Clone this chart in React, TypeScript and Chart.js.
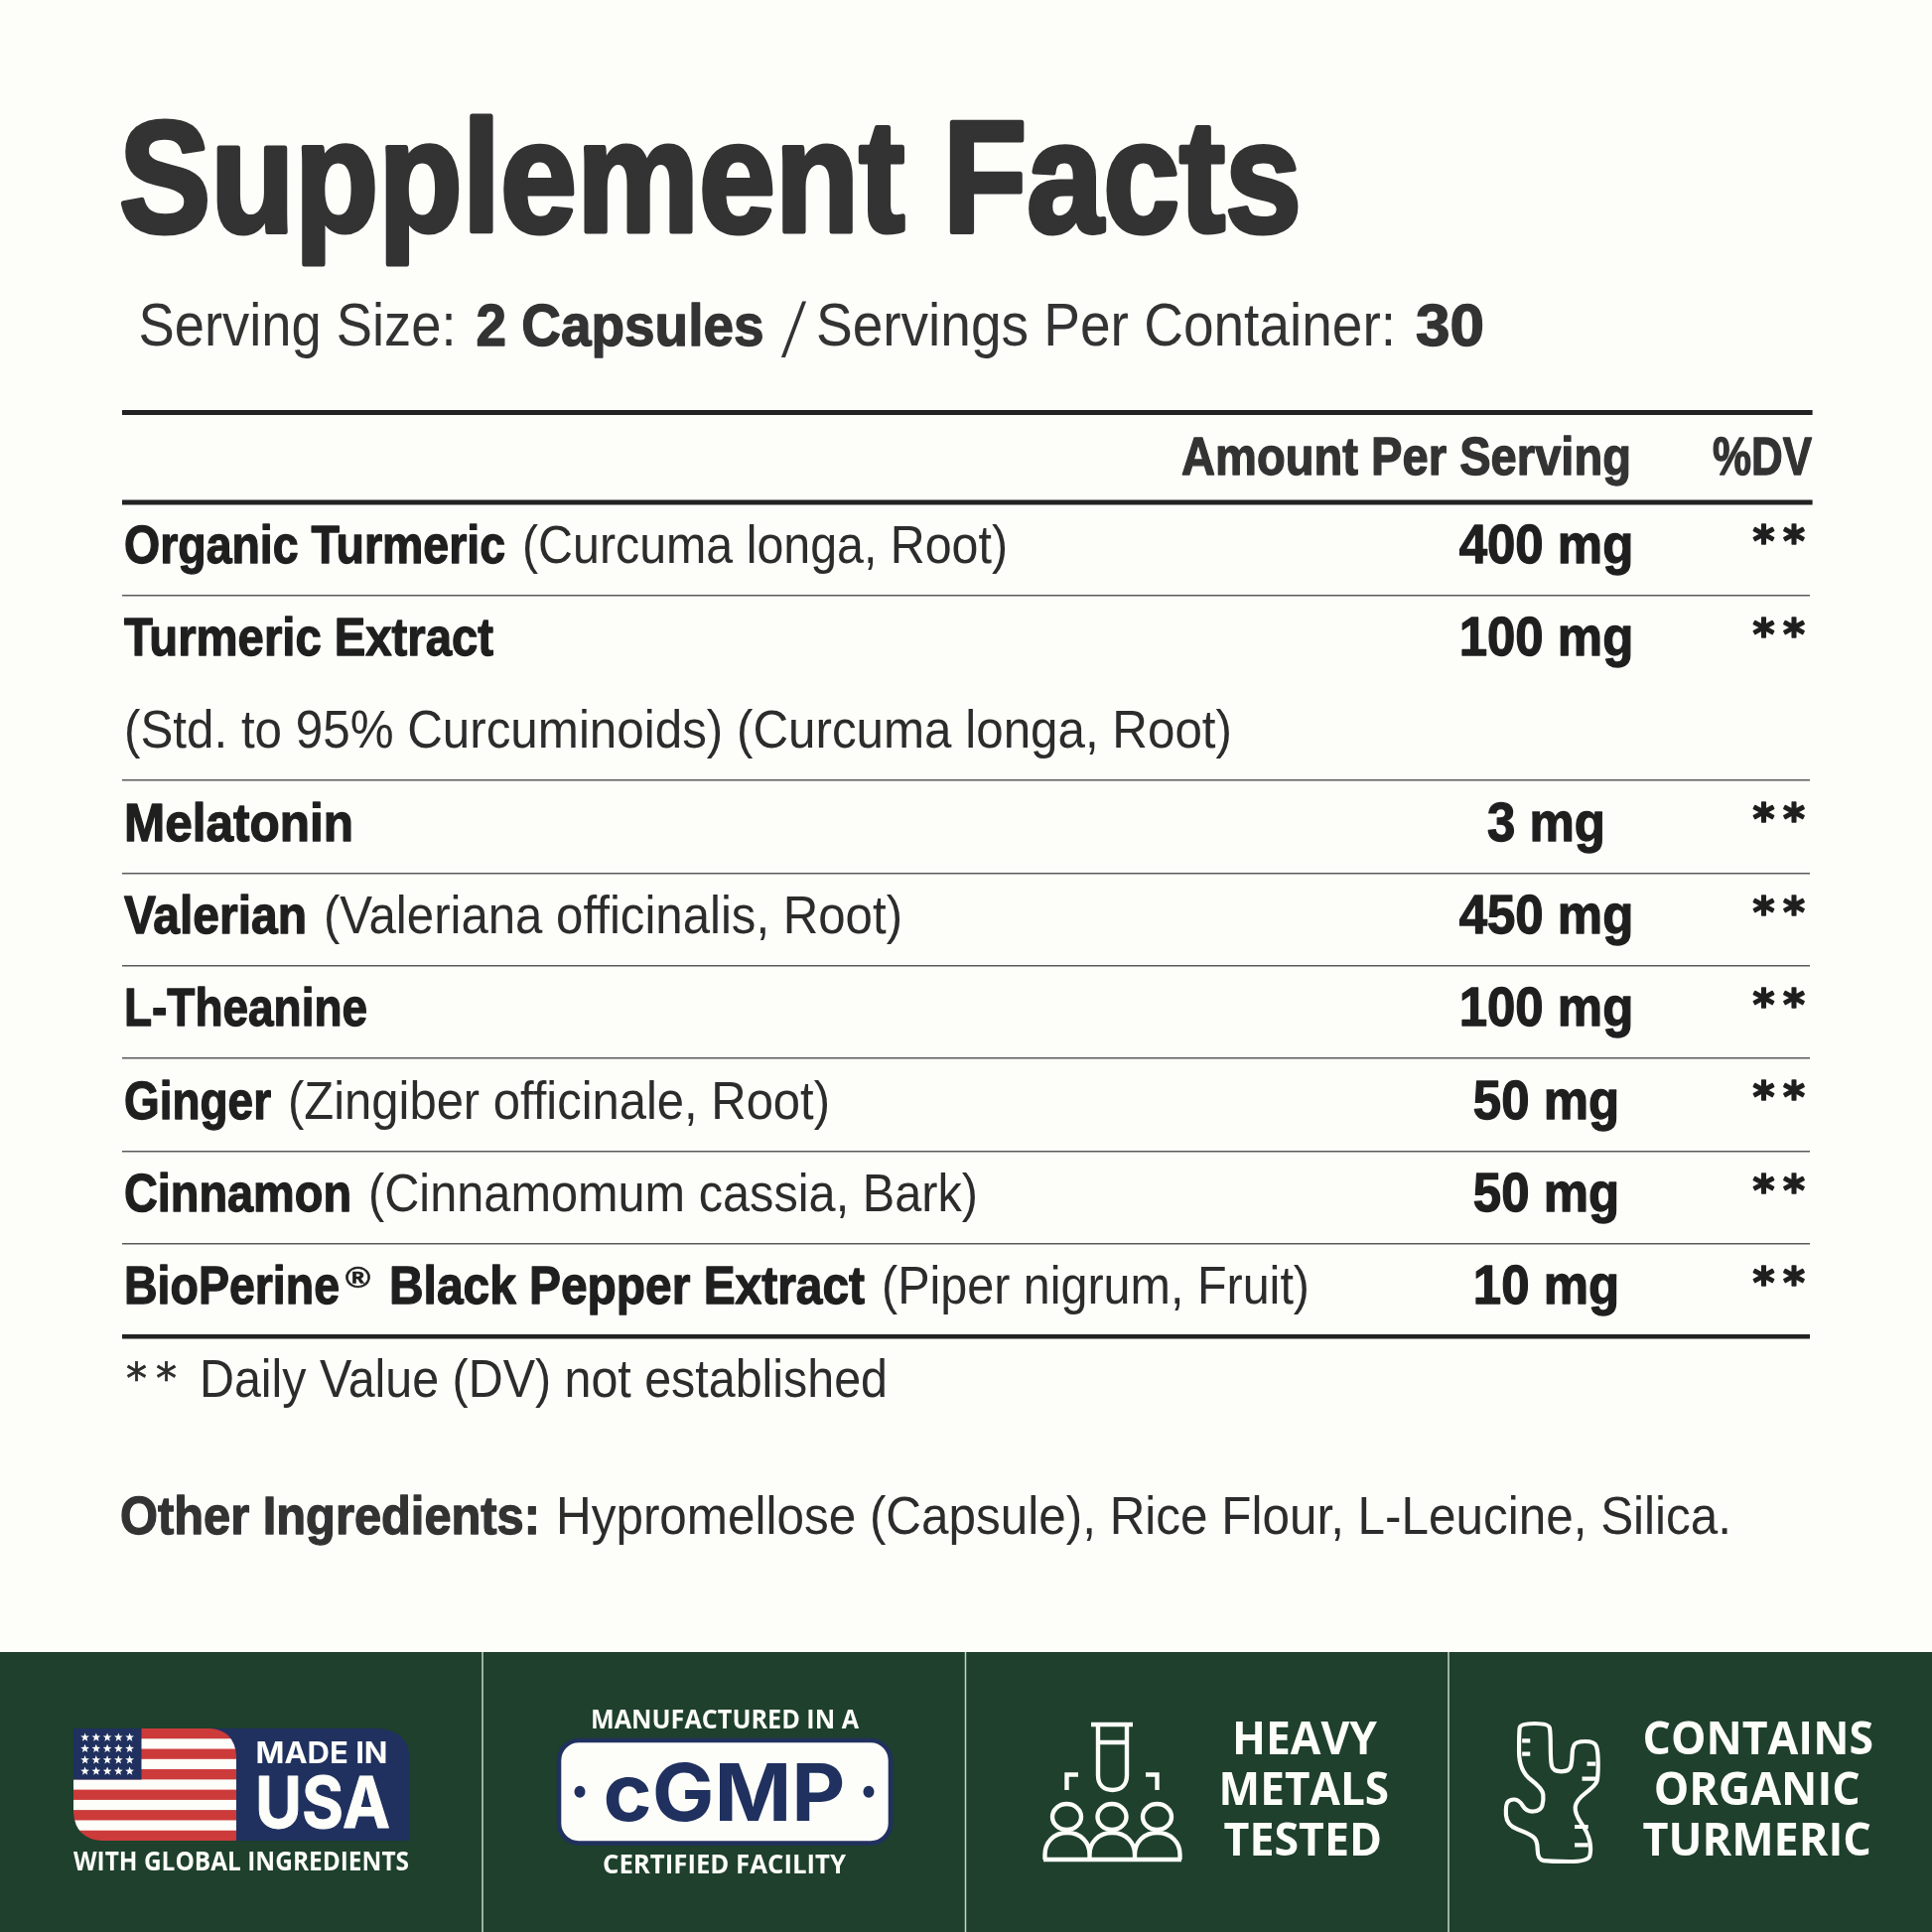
import React, { useEffect, useRef } from "react";
import { Chart, registerables } from "chart.js";

Chart.register(...registerables);

const rowNames = ["Organic Turmeric", "Turmeric Extract", "", "Melatonin", "Valerian", "L-Theanine", "Ginger", "Cinnamon", "BioPerine® Black Pepper Extract"];
const rowNotes = ["(Curcuma longa, Root)", "", "(Std. to 95% Curcuminoids) (Curcuma longa, Root)", "", "(Valeriana officinalis, Root)", "", "(Zingiber officinale, Root)", "(Cinnamomum cassia, Bark)", "(Piper nigrum, Fruit)"];
const rowAmounts = [400, 100, null, 3, 450, 100, 50, 50, 10];
const rowDv = ["**", "**", "", "**", "**", "**", "**", "**", "**"];
const hiddenRule = 2;

// Layout only: drawn widths of the condensed strings, in pixels.
const nameWidths = [384, 372, 0, 231, 184, 245, 148, 229, 746];
const noteWidths = [489, 0, 1116, 0, 583, 0, 546, 614, 431];

const SANS = '"Liberation Sans Narrow", "Liberation Sans", sans-serif';
const OPEN = '"Open Sans", sans-serif';
const INTER = 'Inter, "Open Sans", sans-serif';
const DEJA = '"DejaVu Sans", sans-serif';
const BG = "#fdfdf9";
const GREEN = "#1e402c";
const NAVY = "#20315f";
const RED = "#cd3a3a";

function fit(ctx: any, text: string, x: number, base: number, width: number | null, font: string, color: string, align = "left", sx = 1, bolder = 0, spacing = 0) {
  ctx.save();
  ctx.font = font;
  ctx.letterSpacing = `${spacing}px`;
  ctx.fillStyle = color;
  ctx.strokeStyle = color;
  ctx.textBaseline = "alphabetic";
  ctx.textAlign = "left";
  ctx.lineJoin = "round";
  const m = ctx.measureText(text).width;
  const k = width ? width / m : sx;
  const w = m * k;
  const left = align === "center" ? x - w / 2 : align === "right" ? x - w : x;
  ctx.translate(left, base);
  ctx.scale(k, 1);
  ctx.fillText(text, 0, 0);
  if (bolder) {
    ctx.lineWidth = bolder;
    ctx.strokeText(text, 0, 0);
  }
  ctx.restore();
  return left + w;
}

function star(ctx: any, cx: number, cy: number, r: number) {
  ctx.beginPath();
  for (let i = 0; i < 10; i++) {
    const a = -Math.PI / 2 + (i * Math.PI) / 5;
    const q = i % 2 ? r * 0.42 : r;
    ctx.lineTo(cx + q * Math.cos(a), cy + q * Math.sin(a));
  }
  ctx.closePath();
  ctx.fill();
}

function flagBadge(ctx: any) {
  ctx.fillStyle = NAVY;
  ctx.beginPath();
  ctx.moveTo(200, 1741);
  ctx.lineTo(381, 1741);
  ctx.quadraticCurveTo(410, 1743, 412.5, 1768);
  ctx.lineTo(412.5, 1854);
  ctx.lineTo(200, 1854);
  ctx.closePath();
  ctx.fill();

  ctx.save();
  ctx.beginPath();
  ctx.moveTo(74, 1741);
  ctx.lineTo(212, 1741);
  ctx.quadraticCurveTo(236, 1743, 238, 1768);
  ctx.lineTo(238, 1854);
  ctx.lineTo(102, 1854);
  ctx.quadraticCurveTo(76, 1852, 74, 1826);
  ctx.closePath();
  ctx.clip();
  const h = 113 / 11;
  for (let i = 0; i < 11; i++) {
    ctx.fillStyle = i % 2 ? BG : RED;
    ctx.fillRect(74, 1741 + i * h, 164, h + 0.5);
  }
  ctx.fillStyle = NAVY;
  ctx.fillRect(74, 1741, 68.5, 51.5);
  ctx.fillStyle = BG;
  for (let r = 0; r < 4; r++) for (let c = 0; c < 5; c++) star(ctx, 85.6 + c * 11.25, 1750 + r * 11.35, 4.6);
  ctx.restore();

  fit(ctx, "MADE IN", 257.5, 1775.5, 133, `bold 30px ${INTER}`, BG);
  fit(ctx, "USA", 257, 1840.5, 136, `bold 72px ${INTER}`, BG, "left", 1, 1);
  fit(ctx, "WITH GLOBAL INGREDIENTS", 74, 1884, 338, `bold 26px ${OPEN}`, BG);
}

function cgmpBadge(ctx: any) {
  fit(ctx, "MANUFACTURED IN A", 595, 1741, 270, `bold 26px ${OPEN}`, BG);
  ctx.beginPath();
  ctx.roundRect(563, 1753, 334, 103.5, 20);
  ctx.fillStyle = BG;
  ctx.fill();
  ctx.lineWidth = 4.6;
  ctx.strokeStyle = NAVY;
  ctx.stroke();
  fit(ctx, "cGMP", 607.5, 1834, 244, `bold 80px ${INTER}`, NAVY);
  ctx.fillStyle = NAVY;
  for (const x of [584, 875]) {
    ctx.beginPath();
    ctx.ellipse(x, 1804.7, 5.5, 6, 0, 0, Math.PI * 2);
    ctx.fill();
  }
  fit(ctx, "CERTIFIED FACILITY", 607, 1887, 245, `bold 26px ${OPEN}`, BG);
}

function testIcon(ctx: any) {
  ctx.strokeStyle = BG;
  ctx.lineWidth = 4.4;
  ctx.lineCap = "butt";
  ctx.lineJoin = "miter";
  ctx.beginPath();
  ctx.moveTo(1099, 1737);
  ctx.lineTo(1141, 1737);
  ctx.moveTo(1106, 1737);
  ctx.lineTo(1106, 1788);
  ctx.bezierCurveTo(1106, 1798, 1112, 1803, 1120.5, 1803);
  ctx.bezierCurveTo(1129, 1803, 1135, 1798, 1135, 1788);
  ctx.lineTo(1135, 1737);
  ctx.moveTo(1106, 1755);
  ctx.lineTo(1135, 1755);
  ctx.moveTo(1086, 1787.5);
  ctx.lineTo(1074.5, 1787.5);
  ctx.lineTo(1074.5, 1803);
  ctx.moveTo(1154, 1787.5);
  ctx.lineTo(1165.5, 1787.5);
  ctx.lineTo(1165.5, 1803);
  for (const x of [1074.5, 1120, 1165.5]) {
    ctx.moveTo(x + 14.5, 1830);
    ctx.ellipse(x, 1830, 14.5, 13, 0, 0, Math.PI * 2);
  }
  ctx.stroke();
  ctx.beginPath();
  ctx.moveTo(1051, 1873);
  ctx.lineTo(1190, 1873);
  for (const [a, b] of [[1052.5, 1097.5], [1097.5, 1143], [1143, 1188.5]]) {
    const m = (a + b) / 2;
    ctx.moveTo(a, 1873);
    ctx.lineTo(a, 1868);
    ctx.bezierCurveTo(a, 1856, m - 14, 1846, m, 1846);
    ctx.bezierCurveTo(m + 14, 1846, b, 1856, b, 1868);
    ctx.lineTo(b, 1873);
  }
  ctx.stroke();
}

const sproutOutline = [
  [900, 285], [902, 258], [948, 258], [951, 285], [951, 370], [955, 403], [982, 403], [986, 370], [986, 335], [992, 312], [1022, 312], [1028, 340], [1028, 420],
  [1024, 445], [992, 490], [990, 530], [1012, 590], [1017, 640], [1012, 675], [950, 675], [930, 670], [930, 610], [915, 590], [880, 565],
  [878, 505], [885, 487], [900, 488], [912, 525], [935, 522], [940, 490], [938, 455], [900, 400],
];
const sproutTicks = [
  [905, 310, 918], [905, 350, 918], [1010, 380, 1024], [1002, 425, 1024], [990, 570, 1012], [990, 625, 1012],
];

function sproutIcon(ctx: any) {
  const px = (z: number) => 970 + z / 1.607;
  const py = (z: number) => 1650 + z / 3;
  const pts = sproutOutline.map(([a, b]) => [px(a), py(b)]);
  ctx.strokeStyle = BG;
  ctx.lineWidth = 4.2;
  ctx.lineJoin = "round";
  ctx.beginPath();
  const n = pts.length;
  const mid = (i: number) => [(pts[i % n][0] + pts[(i + 1) % n][0]) / 2, (pts[i % n][1] + pts[(i + 1) % n][1]) / 2];
  const s = mid(n - 1);
  ctx.moveTo(s[0], s[1]);
  for (let i = 0; i < n; i++) {
    const e = mid(i);
    ctx.quadraticCurveTo(pts[i][0], pts[i][1], e[0], e[1]);
  }
  ctx.closePath();
  ctx.stroke();
  ctx.beginPath();
  for (const [a, b, c] of sproutTicks) {
    ctx.moveTo(px(a), py(b));
    ctx.lineTo(px(c), py(b));
  }
  ctx.stroke();
}

const tablePlugin = {
  id: "facts",
  beforeDraw(chart: any) {
    const { ctx, width, height } = chart;
    ctx.save();
    ctx.fillStyle = BG;
    ctx.fillRect(0, 0, width, height);
    ctx.restore();
  },
  afterDraw(chart: any) {
    const { ctx, chartArea, scales } = chart;
    const dark = "#333333";
    const ink = "#1f1f1f";
    const reg = "#2c2c2c";
    const boldF = (s: number) => `bold ${s}px ${SANS}`;
    const regF = (s: number) => `${s}px ${SANS}`;

    fit(ctx, "Supplement Facts", 120, 233, 1191, boldF(160), dark, "left", 1, 5);
    fit(ctx, "Serving Size:", 139.5, 348, 320, regF(62), dark);
    fit(ctx, "2 Capsules", 479.5, 348, 290, boldF(60), dark, "left", 1, 1.4);
    fit(ctx, "/", 786, 360, 27, `300 80px ${OPEN}`, dark);
    fit(ctx, "Servings Per Container:", 822, 348, 584, regF(62), dark);
    fit(ctx, "30", 1426, 348, 69, boldF(60), dark, "left", 1, 1.4);

    ctx.fillStyle = "#222222";
    ctx.fillRect(chartArea.left, 413, 1702.6, 5);
    ctx.fillRect(chartArea.left, 503.5, 1702.6, 5);

    fit(ctx, "Amount Per Serving", 1190, 478, 453, boldF(53), dark, "left", 1, 1.3);
    fit(ctx, "%DV", 1725, 478, 100, boldF(53), dark, "left", 1, 1.3);

    const y = scales.y;
    rowNames.forEach((name, i) => {
      const center = y.getPixelForValue(i);
      const base = center + 14;
      const x0 = chartArea.left + 2;
      let end = x0;
      if (name.includes("®")) {
        const [a, b] = name.split("®");
        fit(ctx, a, x0, base, 217, boldF(53), ink, "left", 1, 1.3);
        fit(ctx, "®", x0 + 223, base - 16, 25, boldF(30), ink, "left", 1, 0.6);
        fit(ctx, b.trim(), x0 + 267, base, 479, boldF(53), ink, "left", 1, 1.3);
        end = x0 + 746;
      } else if (name) {
        end = fit(ctx, name, x0, base, nameWidths[i], boldF(53), ink, "left", 1, 1.3);
      }
      if (rowNotes[i]) fit(ctx, rowNotes[i], name ? end + 17 : end, base, noteWidths[i], regF(53), reg);
      if (rowAmounts[i] !== null) fit(ctx, `${rowAmounts[i]} mg`, 1557.5, base, null, boldF(56), ink, "center", 0.91, 1.3);
      if (rowDv[i]) fit(ctx, rowDv[i], 1765.5, center + 7.5, null, `bold 42px ${DEJA}`, ink, "left", 1, 1.6, 8.5);
    });

    fit(ctx, "**", 127, 1403, null, `42px ${DEJA}`, reg, "left", 1, 0.7, 9);
    fit(ctx, "Daily Value (DV) not established", 201, 1407, 693, regF(53), reg);
    const e = fit(ctx, "Other Ingredients:", 121, 1545, 423, boldF(53), dark, "left", 1, 1.3);
    fit(ctx, "Hypromellose (Capsule), Rice Flour, L-Leucine, Silica.", e + 16, 1545, 1184, regF(53), reg);

    ctx.fillStyle = GREEN;
    ctx.fillRect(0, 1664, 1946, 282);
    ctx.fillStyle = "#c9d2cb";
    for (const x of [486, 972.5, 1459]) ctx.fillRect(x - 0.75, 1664, 1.5, 282);

    flagBadge(ctx);
    cgmpBadge(ctx);
    testIcon(ctx);
    sproutIcon(ctx);

    const f = `bold 46px ${OPEN}`;
    fit(ctx, "HEAVY", 1241, 1766.7, 146, f, BG);
    fit(ctx, "METALS", 1227.6, 1818.3, 171.5, f, BG);
    fit(ctx, "TESTED", 1232.6, 1869.3, 159.5, f, BG);
    fit(ctx, "CONTAINS", 1654.5, 1766.7, 232.5, f, BG);
    fit(ctx, "ORGANIC", 1665.7, 1818.3, 208, f, BG);
    fit(ctx, "TURMERIC", 1654.5, 1869.3, 230.5, f, BG);
  },
};

export default function App() {
  const ref = useRef<HTMLCanvasElement>(null);
  useEffect(() => {
    document.body.style.margin = "0";
    const chart = new Chart(ref.current as HTMLCanvasElement, {
      type: "bar",
      data: {
        labels: rowNames.map((n, i) => n || rowNotes[i]),
        datasets: [{ label: "Amount per serving (mg)", data: rowAmounts as any, backgroundColor: "rgba(0,0,0,0)", borderWidth: 0 }],
      },
      options: {
        indexAxis: "y",
        animation: false,
        responsive: false,
        devicePixelRatio: 1,
        events: [],
        layout: { padding: { top: 506, left: 123, right: 123, bottom: 600 } },
        plugins: { legend: { display: false }, tooltip: { enabled: false }, title: { display: false } },
        scales: {
          x: { display: false, min: 0, max: 500 },
          y: {
            type: "category",
            offset: true,
            ticks: { display: false },
            border: { display: false },
            grid: {
              offset: true,
              drawTicks: false,
              color: (c: any) => (c.index === undefined ? "#222222" : c.index === 0 || c.index === hiddenRule ? "rgba(0,0,0,0)" : "#5a5a5a"),
              lineWidth: (c: any) => (c.index === undefined ? 4.5 : 1.6),
            },
          },
        },
      } as any,
      plugins: [tablePlugin],
    });
    return () => chart.destroy();
  }, []);
  return (
    <div style={{ position: "absolute", left: 0, top: 0, width: 1946, height: 1946, overflow: "hidden" }}>
      <canvas ref={ref} width={1946} height={1946} style={{ display: "block", width: 1946, height: 1946 }} />
    </div>
  );
}
